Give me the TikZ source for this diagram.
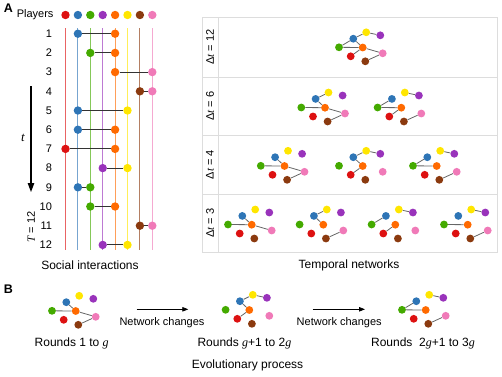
\documentclass[tikz,border=0pt]{standalone}
\usepackage{fontspec}
\setmainfont{Liberation Sans}
\newfontfamily\tms{Liberation Serif}
\usetikzlibrary{arrows.meta}
\newcommand\vi[1]{{\tms\itshape #1}}
\definecolor{cRd}{HTML}{DD1111}
\definecolor{cBl}{HTML}{2E75B6}
\definecolor{cGr}{HTML}{44AA00}
\definecolor{cPu}{HTML}{9933BB}
\definecolor{cOr}{HTML}{FF6A00}
\definecolor{cYl}{HTML}{FFE600}
\definecolor{cBr}{HTML}{8B3A0F}
\definecolor{cPk}{HTML}{F07AB8}
\definecolor{tblgray}{HTML}{DDDDDD}
\newcommand\drawnet[4]{%
  \begin{scope}[shift={(#2,#3)}]
    \foreach \c/\dx/\dy in {Yl/3.5/-15.2, Pu/17.6/-12.2, Bl/-9.4/-8.8, Gr/-23.7/-0.2, Or/0/0, Pk/20/5.8, Rd/-12/8.8, Br/2.6/13.8}
      \node[ndot,fill=c\c] (#1-\c) at (\dx,\dy) {};
    \foreach \a/\b in {#4} \draw[nedge] (#1-\a) -- (#1-\b);
  \end{scope}}
\begin{document}
\begin{tikzpicture}[x=1pt,y=-1pt,
  font=\fontsize{12}{14}\selectfont,
  pdot/.style={circle,inner sep=0pt,minimum size=8.4pt,draw=none},
  ndot/.style={circle,inner sep=0pt,minimum size=7.8pt,draw=none},
  pline/.style={line width=0.9pt},
  iline/.style={line width=1pt,draw=black!80},
  nedge/.style={line width=0.8pt,draw=black!60},
  tbl/.style={line width=0.9pt,draw=tblgray},
  small/.style={font=\fontsize{11}{13}\selectfont},
  panel/.style={font=\fontsize{12.5}{14}\selectfont\bfseries},
  arr/.style={line width=0.8pt,-{Triangle[length=6pt,width=4.5pt]}}]
\useasboundingbox (0,0) rectangle (502,376);
% ---------- Panel A left ----------
\node[panel] (lblA) at (8.5,8.5) {A};
\node[small,anchor=east] (players) at (57,15) {Players};
\foreach \k/\c in {1/Rd,2/Bl,3/Gr,4/Pu,5/Or,6/Yl,7/Br,8/Pk}{
  \node[pdot,fill=c\c] (p\k) at ({65.5+(\k-1)*12.4},15) {};
  \coordinate (lt\k) at ({65.5+(\k-1)*12.4},28);
  \coordinate (lb\k) at ({65.5+(\k-1)*12.4},249.5);
  \draw[pline,draw=c\c!65] (lt\k) -- (lb\k);
}
\foreach \i/\a/\ca/\b/\cb in {1/2/Bl/5/Or, 2/3/Gr/5/Or, 3/5/Or/8/Pk, 4/7/Br/8/Pk,
   5/2/Bl/6/Yl, 6/2/Bl/5/Or, 7/1/Rd/5/Or, 8/4/Pu/6/Yl, 9/2/Bl/3/Gr,
   10/3/Gr/5/Or, 11/7/Br/8/Pk, 12/4/Pu/6/Yl}{
  \node[small,anchor=east] (n\i) at (55.5,{33.7+(\i-1)*19.2}) {\i};
  \node[pdot,fill=c\ca] (r\i a) at ({65.5+(\a-1)*12.4},{33.7+(\i-1)*19.2}) {};
  \node[pdot,fill=c\cb] (r\i b) at ({65.5+(\b-1)*12.4},{33.7+(\i-1)*19.2}) {};
  \draw[iline] (r\i a) -- (r\i b);
}
\coordinate (ta) at (31,86);
\coordinate (tb) at (31,192);
\draw[line width=1.1pt,-{Triangle[length=9pt,width=6.5pt]}] (ta) -- (tb);
\node[font=\fontsize{13}{15}\selectfont] (tlab) at (23,138) {\vi{t}};
\node[small,rotate=90] (Tlab) at (31,227) {\vi{T} = 12};
\node (social) at (90,265) {Social interactions};
% ---------- Panel A right ----------
\draw[tbl] (202,17) rectangle (497,252);
\draw[tbl] (218,17) -- (218,252);
\foreach \y in {77,135,194} \draw[tbl] (202,\y) -- (497,\y);
\node[small,rotate=90] (d12) at (210,47) {Δ\vi{t} = 12};
\node[small,rotate=90] (d6) at (210,106) {Δ\vi{t} = 6};
\node[small,rotate=90] (d4) at (210,164.5) {Δ\vi{t} = 4};
\node[small,rotate=90] (d3) at (210,223) {Δ\vi{t} = 3};
\drawnet{a}{362.7}{47.5}{Bl/Yl, Yl/Pu, Bl/Gr, Bl/Or, Gr/Or, Or/Pk, Rd/Or, Br/Pk}
\drawnet{b1}{325}{107.7}{Bl/Yl, Bl/Or, Gr/Or, Or/Pk, Br/Pk}
\drawnet{b2}{401.3}{107.7}{Yl/Pu, Bl/Gr, Gr/Or, Rd/Or, Br/Pk}
\drawnet{c1}{284.5}{166}{Bl/Or, Gr/Or, Or/Pk, Br/Pk}
\drawnet{c2}{362.7}{166}{Bl/Yl, Yl/Pu, Bl/Or, Rd/Or}
\drawnet{c3}{436.7}{166}{Bl/Gr, Yl/Pu, Gr/Or, Br/Pk}
\drawnet{d1}{251.7}{224.7}{Bl/Or, Gr/Or, Or/Pk}
\drawnet{d2}{323.3}{224.7}{Bl/Yl, Bl/Or, Br/Pk}
\drawnet{d3}{395.3}{224.7}{Bl/Gr, Yl/Pu, Rd/Or}
\drawnet{d4}{467.7}{224.7}{Gr/Or, Yl/Pu, Br/Pk}
\node (temporal) at (349,265) {Temporal networks};
% ---------- Panel B ----------
\node[panel] (lblB) at (8.5,289) {B};
\drawnet{e1}{75.7}{311}{Bl/Or, Gr/Or, Or/Pk, Br/Pk}
\drawnet{e2}{249.3}{310}{Bl/Yl, Yl/Pu, Bl/Or, Rd/Or}
\drawnet{e3}{425.7}{310}{Bl/Gr, Yl/Pu, Gr/Or, Br/Pk}
\coordinate (a1s) at (136.7,309.3);
\coordinate (a1e) at (188.3,309.3);
\coordinate (a2s) at (312.7,309.3);
\coordinate (a2e) at (365,309.3);
\draw[arr] (a1s) -- (a1e);
\draw[arr] (a2s) -- (a2e);
\node[small] (nc1) at (162,323) {Network changes};
\node[small] (nc2) at (339.2,323) {Network changes};
\node (rd1) at (71.7,343) {Rounds 1 to \vi{g}};
\node (rd2) at (244.4,343) {Rounds \vi{g}+1 to 2\vi{g}};
\node (rd3) at (423,343) {Rounds\ \ 2\vi{g}+1 to 3\vi{g}};
\node (evo) at (247.5,365) {Evolutionary process};
\end{tikzpicture}
\end{document}
